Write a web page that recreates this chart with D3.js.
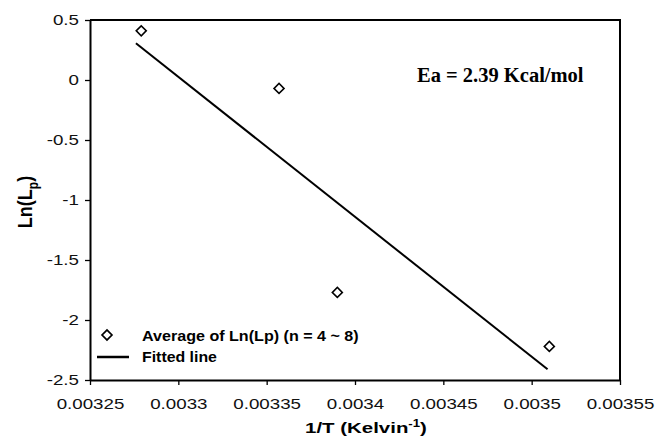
<!DOCTYPE html>
<html>
<head>
<meta charset="utf-8">
<script src="https://cdn.jsdelivr.net/npm/d3@7"></script>
<style>
  body { margin: 0; background: #fff; }
  svg { display: block; }
  .tick text { font-family: "Liberation Sans", Arial, sans-serif; font-size: 15px; fill: #111; }
</style>
</head>
<body>
<div id="chart"></div>
<script>
// data
const invT = [0.003279, 0.003357, 0.00339, 0.00351];
const lnLp = [0.41, -0.07, -1.77, -2.22];
const fitX = [0.003276, 0.003509];
const fitY = [0.306, -2.411];
const xTicks = [0.00325, 0.0033, 0.00335, 0.0034, 0.00345, 0.0035, 0.00355];
const xTickLabels = ["0.00325", "0.0033", "0.00335", "0.0034", "0.00345", "0.0035", "0.00355"];
const yTicks = [0.5, 0, -0.5, -1, -1.5, -2, -2.5];
const yTickLabels = ["0.5", "0", "-0.5", "-1", "-1.5", "-2", "-2.5"];
const legendLabels = ["Average of Ln(Lp) (n = 4 ~ 8)", "Fitted line"];
const note = "Ea = 2.39 Kcal/mol";

const width = 671, height = 442;
const margin = { top: 20, right: 51, bottom: 62, left: 90 };
const stretch = 1.25; // the source text is a bit wide

const svg = d3.select("#chart").append("svg")
    .attr("width", width)
    .attr("height", height);

const x = d3.scaleLinear()
    .domain([0.00325, 0.00355])
    .range([margin.left, width - margin.right]);

const y = d3.scaleLinear()
    .domain([-2.5, 0.5])
    .range([height - margin.bottom, margin.top]);

// squeeze/stretch a text horizontally to a given width around its anchor
function fitWidth(sel, target, ax, ay) {
    const w = sel.node().getBBox().width;
    sel.attr("x", 0).attr("y", 0)
        .attr("transform", `translate(${ax},${ay}) scale(${target / w},1)`);
}

// frame: top and right edges
svg.append("path")
    .attr("d", `M${x(0.00325)},${y(0.5)}H${x(0.00355)}V${y(-2.5)}`)
    .attr("fill", "none")
    .attr("stroke", "#000")
    .attr("stroke-width", 2);

const xAxis = d3.axisBottom(x)
    .tickValues(xTicks)
    .tickFormat((d, i) => xTickLabels[i])
    .tickSize(5)
    .tickSizeOuter(0)
    .tickPadding(13);

const yAxis = d3.axisLeft(y)
    .tickValues(yTicks)
    .tickFormat((d, i) => yTickLabels[i])
    .tickSize(5)
    .tickSizeOuter(0)
    .tickPadding(6);

const gx = svg.append("g")
    .attr("transform", `translate(0,${height - margin.bottom})`)
    .call(xAxis);
gx.select(".domain").attr("stroke-width", 2);
gx.selectAll(".tick line").attr("stroke-width", 1.3);
gx.selectAll(".tick text").attr("transform", `scale(${stretch},1)`);

const gy = svg.append("g")
    .attr("transform", `translate(${margin.left},0)`)
    .call(yAxis);
gy.select(".domain").attr("stroke-width", 2);
gy.selectAll(".tick line").attr("stroke-width", 1.3);
gy.selectAll(".tick text")
    .attr("x", 0)
    .attr("transform", `translate(-11,0) scale(${stretch},1)`);

// axis titles
const xTitle = svg.append("text")
    .attr("text-anchor", "middle")
    .style("font-family", "'Liberation Sans', Arial, sans-serif")
    .style("font-size", "15.5px")
    .style("font-weight", "bold")
    .call(t => {
        t.append("tspan").text("1/T (Kelvin");
        t.append("tspan").attr("dy", -6).style("font-size", "10px").text("-1");
        t.append("tspan").attr("dy", 6).text(")");
    });
fitWidth(xTitle, 122, 366, 433);

svg.append("text")
    .attr("transform", `translate(32,${(y(0.5) + y(-2.5)) / 2 + 2}) scale(1.15,1) rotate(-90)`)
    .attr("text-anchor", "middle")
    .style("font-family", "'Liberation Sans', Arial, sans-serif")
    .style("font-size", "18px")
    .style("font-weight", "bold")
    .call(t => {
        t.append("tspan").text("Ln(L");
        t.append("tspan").attr("dy", 5).style("font-size", "12px").text("p");
        t.append("tspan").attr("dy", -5).text(")");
    });

// fitted line
const line = d3.line()
    .x(d => x(d[0]))
    .y(d => y(d[1]));

svg.append("path")
    .datum(d3.zip(fitX, fitY))
    .attr("d", line)
    .attr("fill", "none")
    .attr("stroke", "#000")
    .attr("stroke-width", 2);

// data points as hollow diamonds
const diamond = d3.symbol().type(d3.symbolSquare).size(50);

svg.selectAll(".pt")
    .data(d3.zip(invT, lnLp))
    .join("path")
    .attr("class", "pt")
    .attr("d", diamond)
    .attr("transform", d => `translate(${x(d[0])},${y(d[1])}) rotate(45)`)
    .attr("fill", "#fff")
    .attr("stroke", "#000")
    .attr("stroke-width", 1.6);

// annotation
svg.append("text")
    .attr("x", 417)
    .attr("y", 82)
    .style("font-family", "'Liberation Serif', 'Times New Roman', serif")
    .style("font-size", "20.5px")
    .style("font-weight", "bold")
    .text(note);

// legend
const legend = svg.append("g")
    .style("font-family", "'Liberation Sans', Arial, sans-serif")
    .style("font-size", "14.5px")
    .style("font-weight", "bold");

legend.append("path")
    .attr("d", diamond)
    .attr("transform", "translate(107,335) rotate(45)")
    .attr("fill", "#fff")
    .attr("stroke", "#000")
    .attr("stroke-width", 1.6);

legend.append("line")
    .attr("x1", 97).attr("x2", 129)
    .attr("y1", 357).attr("y2", 357)
    .attr("stroke", "#000")
    .attr("stroke-width", 2.5);

const legendWidths = [217, 75];
legend.selectAll(".lbl")
    .data(legendLabels)
    .join("text")
    .attr("class", "lbl")
    .text(d => d)
    .each(function (d, i) {
        fitWidth(d3.select(this), legendWidths[i], 142, 341 + i * 21);
    });
</script>
</body>
</html>
